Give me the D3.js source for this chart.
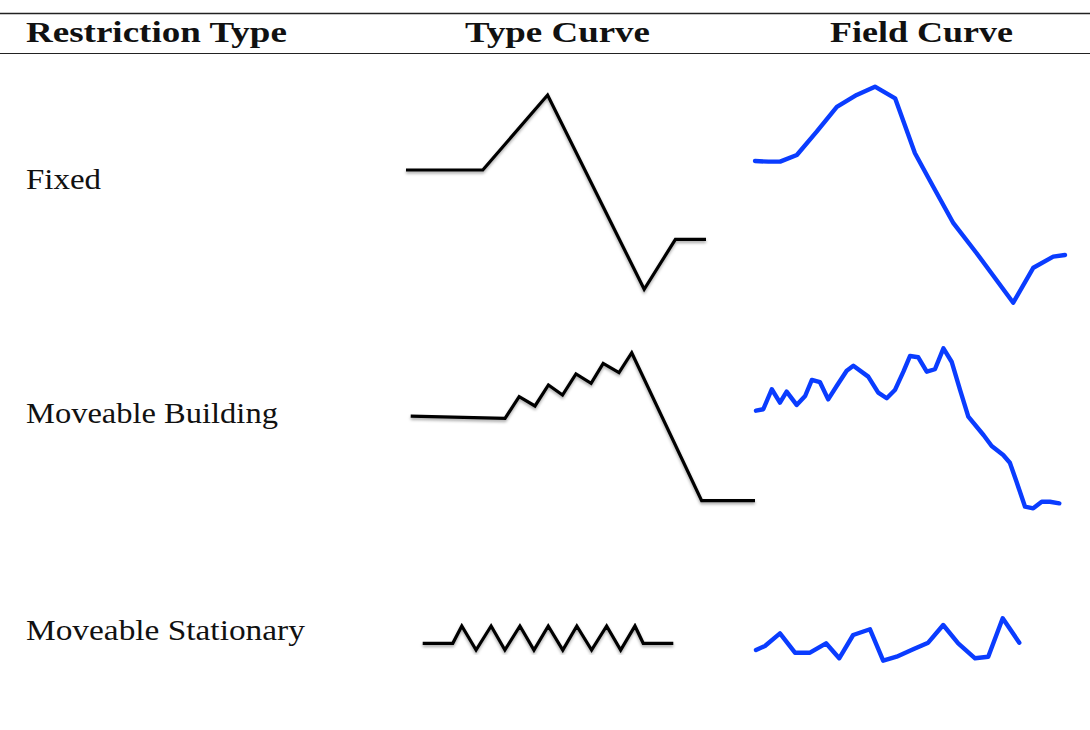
<!DOCTYPE html>
<html>
<head>
<meta charset="utf-8">
<script src="https://d3js.org/d3.v7.min.js"></script>
<style>
  html, body { margin: 0; padding: 0; background: #fff; }
  svg { display: block; }
</style>
</head>
<body>
<svg id="chart" width="1090" height="730"></svg>
<script>
// ---- data (normalised time 0..100, normalised signal 0..100) ----
const headers = ["Restriction Type", "Type Curve", "Field Curve"];
const rowLabels = ["Fixed", "Moveable Building", "Moveable Stationary"];

const fixedTypeT = [0, 25.6, 47.2, 79.4, 89.8, 100];
const fixedTypeV = [61.4, 61.4, 100, 0, 25.7, 25.7];

const fixedFieldT = [0, 4.3, 8.1, 13.5, 19.9, 26.4, 32.8, 38.7, 45.2, 51.6, 57.5, 64.0, 71.5, 83.3, 89.8, 96.2, 100];
const fixedFieldV = [65.6, 65.3, 65.3, 68.4, 79.2, 90.7, 96.2, 100, 94.6, 69.2, 53.7, 36.8, 22.9, 0, 16.2, 21.3, 22.1];

const buildingTypeT = [0, 27.4, 31.5, 36.1, 40.0, 44.1, 48.0, 52.4, 55.9, 60.5, 64.2, 84.5, 100];
const buildingTypeV = [57.2, 55.7, 70.3, 64.0, 78.2, 71.4, 85.6, 79.3, 92.8, 86.5, 100, 0, 0];

const buildingFieldT = [0, 2.4, 5.2, 7.9, 10.1, 13.4, 16.2, 18.4, 21.1, 23.8, 26.6, 29.9, 32.1, 37.0, 40.3, 43.1, 45.8, 48.6, 50.8, 53.5, 56.3, 59.0, 61.8, 64.5, 67.3, 70.0, 75.0, 77.7, 81.5, 83.7, 85.9, 88.7, 91.4, 94.2, 96.9, 100];
const buildingFieldV = [61.0, 61.9, 74.4, 66.0, 72.9, 64.6, 70.2, 80.2, 78.8, 68.1, 76.4, 86.0, 89.1, 82.3, 72.3, 68.8, 73.9, 85.4, 95.2, 94.4, 85.4, 86.9, 100, 91.6, 73.9, 57.3, 45.8, 38.9, 33.3, 28.5, 16.6, 1.0, 0, 4.1, 4.1, 3.1];

const stationaryTypeT = [0, 12.0, 15.6, 21.3, 27.3, 32.8, 38.8, 44.4, 50.1, 55.9, 61.5, 67.4, 73.4, 79.0, 84.7, 88.0, 100];
const stationaryTypeV = [27.9, 27.9, 100, 0, 100, 0, 100, 0, 100, 0, 100, 0, 100, 0, 100, 27.9, 27.9];

const stationaryFieldT = [0, 3.4, 9.1, 14.8, 20.5, 26.6, 31.6, 36.9, 43.3, 48.3, 53.4, 59.7, 65.4, 71.1, 76.8, 83.2, 88.2, 93.7, 100];
const stationaryFieldV = [25.2, 34.7, 64.6, 18.9, 18.9, 41.0, 5.7, 60.6, 74.1, 0, 9.4, 26.9, 42.5, 84.2, 41.0, 5.7, 9.4, 100, 42.5];

// ---- layout ----
const svg = d3.select("#chart");
const serif = "'Liberation Serif', 'Times New Roman', serif";

const defs = svg.append("defs");
const f = defs.append("filter").attr("id", "shadow")
  .attr("x", "-10%").attr("y", "-10%").attr("width", "120%").attr("height", "130%");
f.append("feDropShadow").attr("dx", 0).attr("dy", 2).attr("stdDeviation", 1.5)
  .attr("flood-color", "#000").attr("flood-opacity", 0.35);

// rules
svg.append("line").attr("x1", 0).attr("x2", 1090).attr("y1", 13.5).attr("y2", 13.5)
  .attr("stroke", "#222").attr("stroke-width", 1.6);
svg.append("line").attr("x1", 0).attr("x2", 1090).attr("y1", 53.5).attr("y2", 53.5)
  .attr("stroke", "#222").attr("stroke-width", 1.2);

// text fitted to a target width by horizontal scaling (keeps glyph shapes)
function fitText(str, x, y, w, size, bold) {
  const g = svg.append("g");
  const t = g.append("text").text(str)
    .attr("x", 0).attr("y", 0)
    .attr("font-family", serif).attr("font-size", size)
    .attr("font-weight", bold ? "bold" : "normal")
    .attr("fill", "#111");
  const nat = t.node().getComputedTextLength();
  const sx = nat > 0 ? w / nat : 1;
  g.attr("transform", `translate(${x},${y}) scale(${sx},1)`);
}

const headerPos = [{x: 26, w: 261}, {x: 465, w: 185}, {x: 830, w: 183}];
headers.forEach((h, i) => fitText(h, headerPos[i].x, 41.5, headerPos[i].w, 29, true));

const labelPos = [{y: 188.5, w: 75}, {y: 423, w: 252}, {y: 640, w: 279}];
rowLabels.forEach((r, i) => fitText(r, 26, labelPos[i].y, labelPos[i].w, 29, false));

// panels: boxes for each curve
const panels = [
  {t: fixedTypeT, v: fixedTypeV, x0: 406, x1: 706, y0: 289.3, y1: 95, kind: "type"},
  {t: fixedFieldT, v: fixedFieldV, x0: 755, x1: 1065, y0: 302.7, y1: 86.7, kind: "field"},
  {t: buildingTypeT, v: buildingTypeV, x0: 410.7, x1: 755, y0: 500.7, y1: 352.7, kind: "type"},
  {t: buildingFieldT, v: buildingFieldV, x0: 756, x1: 1059.3, y0: 508.3, y1: 348.3, kind: "field"},
  {t: stationaryTypeT, v: stationaryTypeV, x0: 422.7, x1: 673.3, y0: 650, y1: 626, kind: "type"},
  {t: stationaryFieldT, v: stationaryFieldV, x0: 756, x1: 1019.3, y0: 660.7, y1: 618.3, kind: "field"}
];

panels.forEach(p => {
  const x = d3.scaleLinear().domain([0, 100]).range([p.x0, p.x1]);
  const y = d3.scaleLinear().domain([0, 100]).range([p.y0, p.y1]);
  const pts = p.t.map((t, i) => [t, p.v[i]]);
  const line = d3.line().x(d => x(d[0])).y(d => y(d[1]));
  const path = svg.append("path").datum(pts).attr("d", line)
    .attr("fill", "none")
    .attr("stroke-linejoin", "miter").attr("stroke-linecap", "butt");
  if (p.kind === "type") {
    path.attr("stroke", "#000").attr("stroke-width", 3.2).attr("filter", "url(#shadow)");
  } else {
    path.attr("stroke", "#0a3cff").attr("stroke-width", 4.4)
      .attr("stroke-linejoin", "round").attr("stroke-linecap", "round");
  }
});
</script>
</body>
</html>
